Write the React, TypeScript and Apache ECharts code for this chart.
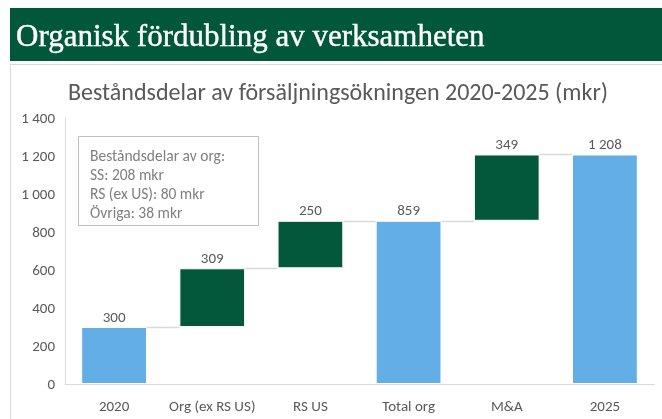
import React, { useEffect, useRef } from "react";
import * as echarts from "echarts";

const categories = ["2020", "Org (ex RS US)", "RS US", "Total org", "M&A", "2025"];
const values = [300, 309, 250, 859, 349, 1208];
const isTotal = [true, false, false, true, false, true];
const yTicks = { min: 0, max: 1400, interval: 200 };
const boxLines = ["Beståndsdelar av org:", "SS: 208 mkr", "RS (ex US): 80 mkr", "Övriga: 38 mkr"];
const headerText = "Organisk fördubling av verksamheten";
const chartTitle = "Beståndsdelar av försäljningsökningen 2020-2025 (mkr)";

const BLUE = "#62AEE5";
const GREEN = "#03573A";
const FONT = "Carlito, Lato, 'Open Sans', sans-serif";

const fmt = (v: number) => String(v).replace(/\B(?=(\d{3})+(?!\d))/g, " ");

export default function App() {
  const ref = useRef<HTMLDivElement>(null);
  useEffect(() => {
    if (!ref.current) return;
    const chart = echarts.init(ref.current, null, { renderer: "svg" });

    const bases: number[] = [];
    const levels: number[] = [];
    let running = 0;
    values.forEach((v, i) => {
      if (isTotal[i]) {
        bases.push(0);
        running = v;
      } else {
        bases.push(running);
        running += v;
      }
      levels.push(running);
    });

    const barFrac = 0.67;

    chart.setOption({
      animation: false,
      textStyle: { fontFamily: FONT },
      grid: { left: 65, right: 8, top: 118, bottom: 35, containLabel: false },
      graphic: [
        { type: "rect", shape: { x: 10, y: 8, width: 652, height: 53 }, style: { fill: "#00573A" } },
        {
          type: "text",
          x: 16,
          y: 35,
          style: {
            text: headerText,
            fill: "#ffffff",
            font: "31px 'Liberation Serif', 'DejaVu Serif', serif",
            textVerticalAlign: "middle",
            stroke: "#ffffff",
            lineWidth: 0.4,
          },
        },
        {
          type: "polyline",
          shape: { points: [[10.5, 419], [10.5, 64.5], [662, 64.5]] },
          style: { stroke: "#d9d9d9", lineWidth: 1, fill: "none" },
        },
        {
          type: "text",
          x: 338,
          y: 91,
          style: {
            text: chartTitle,
            fill: "#595959",
            font: `24px ${FONT}`,
            textAlign: "center",
            textVerticalAlign: "middle",
          },
        },
        {
          type: "rect",
          shape: { x: 78.5, y: 136.5, width: 180, height: 89 },
          style: { fill: "#ffffff", stroke: "#bfbfbf", lineWidth: 1 },
          z: 10,
        },
        ...boxLines.map((t, i) => ({
          type: "text",
          x: 90,
          y: 155 + i * 19,
          z: 11,
          style: {
            text: t,
            fill: "#7f7f7f",
            font: `15.5px ${FONT}`,
            textVerticalAlign: "middle",
          },
        })),
      ],
      xAxis: {
        type: "category",
        data: categories,
        axisLine: { lineStyle: { color: "#d9d9d9" } },
        axisTick: { show: false },
        axisLabel: { color: "#595959", fontSize: 15, margin: 14, interval: 0, fontFamily: FONT },
      },
      yAxis: {
        type: "value",
        min: yTicks.min,
        max: yTicks.max,
        interval: yTicks.interval,
        axisLine: { show: true, lineStyle: { color: "#d9d9d9" } },
        axisTick: { show: false },
        splitLine: { show: false },
        axisLabel: { color: "#595959", fontSize: 15, margin: 10, formatter: (v: number) => fmt(v), fontFamily: FONT },
      },
      series: [
        {
          type: "bar",
          stack: "wf",
          data: bases,
          itemStyle: { color: "transparent" },
          barWidth: `${barFrac * 100}%`,
          silent: true,
        },
        {
          type: "bar",
          stack: "wf",
          barWidth: `${barFrac * 100}%`,
          data: values.map((v, i) => ({
            value: v,
            itemStyle: { color: isTotal[i] ? BLUE : GREEN, borderColor: "#ffffff", borderWidth: 1 },
          })),
          label: {
            show: true,
            position: "top",
            distance: 3,
            color: "#595959",
            fontSize: 15,
            fontFamily: FONT,
            formatter: (p: any) => fmt(p.value),
          },
        },
        {
          type: "custom",
          data: levels.slice(0, -1).map((lv, i) => [i, lv]),
          z: 1,
          renderItem: (params: any, api: any) => {
            const i = api.value(0);
            const lv = api.value(1);
            const pt = api.coord([i, lv]);
            const band = api.size([1, 0])[0];
            const bw = band * barFrac;
            const y = Math.round(pt[1]) + 0.5;
            return {
              type: "line",
              shape: { x1: pt[0] + bw / 2, y1: y, x2: pt[0] + band - bw / 2, y2: y },
              style: { stroke: "#d9d9d9", lineWidth: 1.5 },
            };
          },
        },
      ],
    });
    return () => chart.dispose();
  }, []);
  return <div ref={ref} style={{ position: "fixed", left: 0, top: 0, width: 662, height: 419 }} />;
}
